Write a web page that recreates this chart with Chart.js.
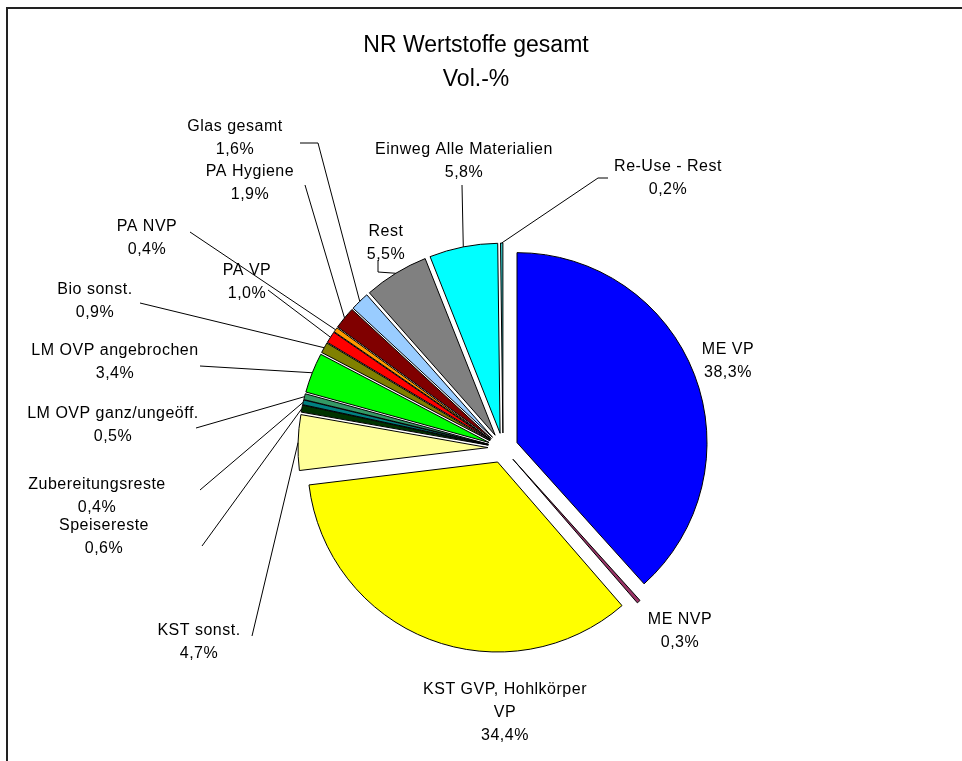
<!DOCTYPE html>
<html>
<head>
<meta charset="utf-8">
<script src="https://cdn.jsdelivr.net/npm/chart.js@4.4.1/dist/chart.umd.min.js"></script>
<style>
  html, body { margin: 0; padding: 0; background: #fff; overflow: hidden; }
  #wrap { position: relative; width: 962px; height: 761px; }
  #frame { position: absolute; left: 6px; top: 7px; width: 1000px; height: 800px; border: 2px solid #222; }
  canvas { position: absolute; left: 0; top: 0; }
</style>
</head>
<body>
<div id="wrap">
  <div id="frame"></div>
  <canvas id="pie" width="962" height="761"></canvas>
</div>
<script>
// ===== 데이터 =====
const categories = [
  'ME VP', 'ME NVP', ['KST GVP, Hohlkörper', 'VP'], 'KST sonst.', 'Speisereste', 'Zubereitungsreste',
  'LM OVP ganz/ungeöff.', 'LM OVP angebrochen', 'Bio sonst.', 'PA VP', 'PA NVP', 'PA Hygiene',
  'Glas gesamt', 'Rest', 'Einweg Alle Materialien', 'Re-Use - Rest'
];
const values = [38.3, 0.3, 34.4, 4.7, 0.6, 0.4, 0.5, 3.4, 0.9, 1.0, 0.4, 1.9, 1.6, 5.5, 5.8, 0.2];
const titleLines = ['NR Wertstoffe gesamt', 'Vol.-%'];

// ===== 스타일 / 레이아웃 =====
const colors = [
  '#0000FF', '#993366', '#FFFF00', '#FFFF99', '#003300', '#008080',
  '#339966', '#00FF00', '#808000', '#FF0000', '#FF9900', '#800000',
  '#99CCFF', '#808080', '#00FFFF', '#33CCCC'
];
const explode = values.map(() => 15);
// 라벨 텍스트 중심 (첫 줄)
const labelPos = [
  [728, 350], [680, 620], [505, 690], [199, 631], [104, 526], [97, 485],
  [113, 414], [115, 351], [95, 290], [247, 271], [147, 227], [250, 172],
  [235, 127], [386, 232], [464, 150], [668, 167]
];
// 지시선 시작점 (라벨 쪽), null = 없음
const leaderFrom = [
  null, null, null,
  [[252, 636]], [[202, 546]], [[200, 490]],
  [[196, 428]], [[200, 366]], [[140, 303]],
  [[268, 290]], [[190, 232]], [[305, 185]],
  [[300, 143], [318, 143]], [[378, 260], [378, 272]], [[462, 185]], [[608, 178], [598, 178]]
];

const FONT = '16px "Liberation Sans", Arial, sans-serif';
const LINE_H = 23;

const explodePlugin = {
  id: 'explode',
  afterDatasetsUpdate(chart) {
    chart.getDatasetMeta(0).data.forEach((arc, i) => {
      const mid = (arc.startAngle + arc.endAngle) / 2;
      arc.x += Math.cos(mid) * explode[i];
      arc.y += Math.sin(mid) * explode[i];
    });
  }
};

const labelPlugin = {
  id: 'pieLabels',
  afterDatasetsDraw(chart) {
    const ctx = chart.ctx;
    const arcs = chart.getDatasetMeta(0).data;
    ctx.save();
    // 제목
    ctx.fillStyle = '#000';
    ctx.textAlign = 'center';
    ctx.textBaseline = 'middle';
    ctx.font = '23px "Liberation Sans", Arial, sans-serif';
    ctx.fillText(titleLines[0], 476, 46);
    ctx.fillText(titleLines[1], 476, 80);

    // 지시선
    ctx.strokeStyle = '#000';
    ctx.lineWidth = 1;
    arcs.forEach((arc, i) => {
      const pts = leaderFrom[i];
      if (!pts) return;
      const mid = (arc.startAngle + arc.endAngle) / 2;
      const ex = arc.x + Math.cos(mid) * arc.outerRadius;
      const ey = arc.y + Math.sin(mid) * arc.outerRadius;
      ctx.beginPath();
      ctx.moveTo(pts[0][0], pts[0][1]);
      pts.slice(1).forEach(p => ctx.lineTo(p[0], p[1]));
      ctx.lineTo(ex, ey);
      ctx.stroke();
    });

    // 라벨
    ctx.font = FONT;
    if ('letterSpacing' in ctx) ctx.letterSpacing = '0.5px';
    arcs.forEach((arc, i) => {
      const name = categories[i];
      const lines = (Array.isArray(name) ? name : [name]).concat(
        values[i].toFixed(1).replace('.', ',') + '%');
      const [x, y] = labelPos[i];
      lines.forEach((t, k) => ctx.fillText(t, x, y + k * LINE_H));
    });
    ctx.restore();
  }
};

new Chart(document.getElementById('pie'), {
  type: 'pie',
  data: {
    labels: categories,
    datasets: [{
      data: values,
      backgroundColor: colors,
      borderColor: '#000',
      borderWidth: 1
    }]
  },
  options: {
    responsive: false,
    animation: false,
    radius: 190,
    layout: { padding: { left: 200, right: 156, top: 200, bottom: 65 } },
    plugins: { legend: { display: false }, tooltip: { enabled: false }, title: { display: false } }
  },
  plugins: [explodePlugin, labelPlugin]
});
</script>
</body>
</html>
